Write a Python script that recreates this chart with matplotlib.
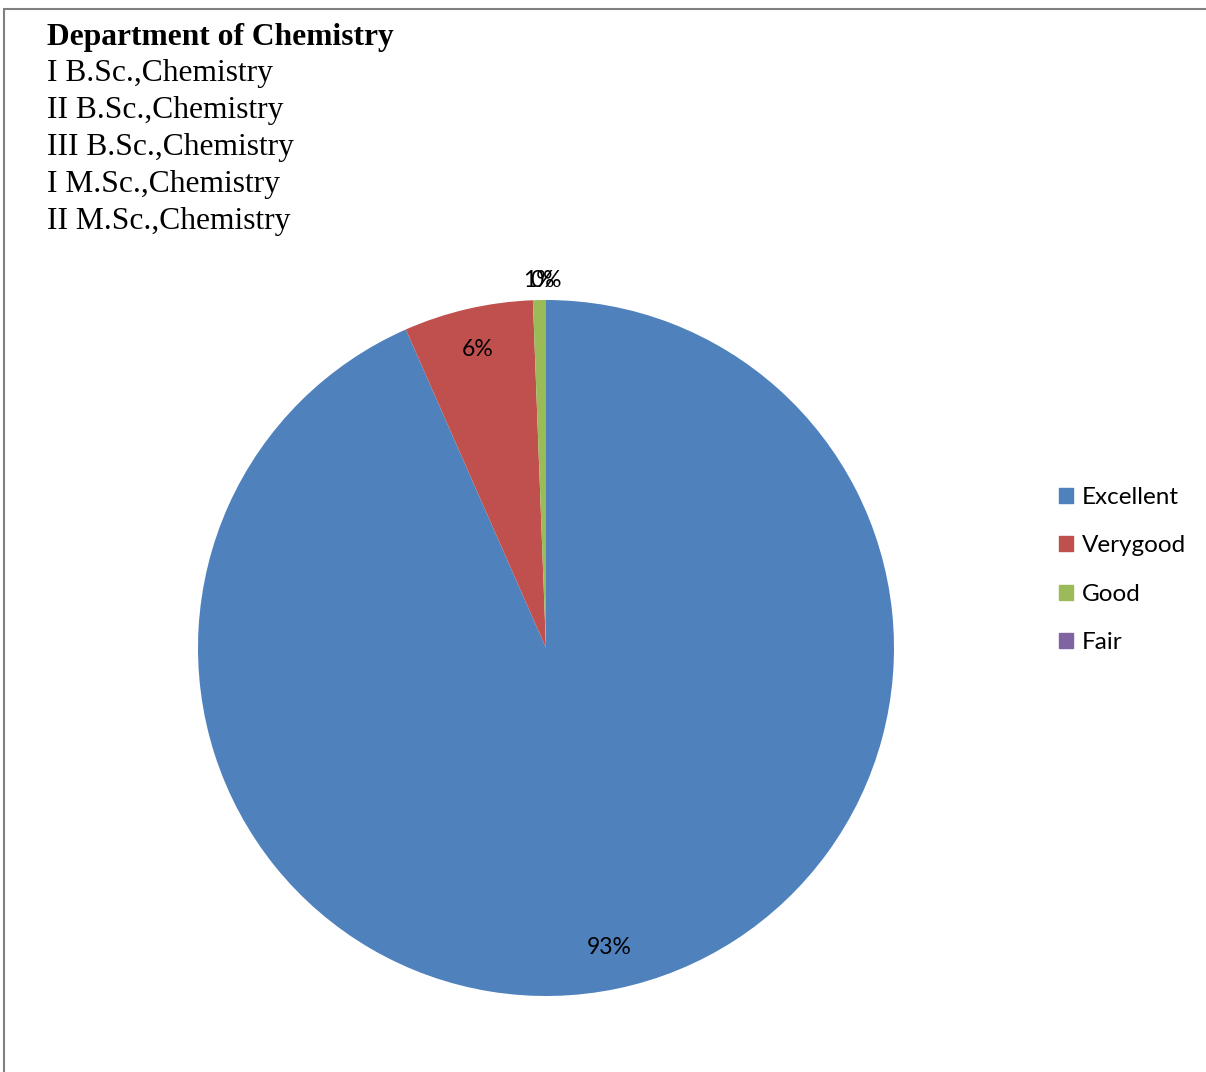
import numpy as np
import matplotlib.pyplot as plt
import matplotlib.patches as mpathes

# ---- data ----
categories = ["Excellent", "Verygood", "Good", "Fair"]
shares = [93.4, 6.0, 0.6, 0.0]
colors = ["#4F81BD", "#C0504D", "#9BBB59", "#8064A2"]
title = "Department of Chemistry"
classes = [
    "I B.Sc.,Chemistry",
    "II B.Sc.,Chemistry",
    "III B.Sc.,Chemistry",
    "I M.Sc.,Chemistry",
    "II M.Sc.,Chemistry",
]

W, H = 1206, 1072
fig = plt.figure(figsize=(W / 100, H / 100), dpi=100)
fig.patch.set_facecolor("white")

# outer frame (only top and left edges visible)
frame = mpathes.Rectangle(
    (4 / W, -0.1), 1.2, 1 - 9 / H + 0.1,
    transform=fig.transFigure, fill=False, edgecolor="#808080", lw=1.5,
)
fig.patches.append(frame)

# header text
fig.text(47 / W, 1 - 37 / H, title, family="Liberation Serif", weight="bold",
         fontsize=22.7, va="center", ha="left")
for i, line in enumerate(classes):
    fig.text(47 / W, 1 - (74 + 36.8 * i) / H, line, family="Liberation Serif",
             fontsize=22.7, va="center", ha="left")

# pie
cx, cy, r = 546, 648, 348
ax = fig.add_axes([(cx - r) / W, (H - cy - r) / H, 2 * r / W, 2 * r / H])
wedges, _, autotexts = ax.pie(
    shares, colors=colors, startangle=90, counterclock=False,
    autopct="%1.0f%%", pctdistance=0.88,
    wedgeprops=dict(linewidth=0),
    textprops=dict(family="Lato", fontsize=16.5, color="black"),
)
for w, t, v in zip(wedges, autotexts, shares):
    if v < 2:
        ang = np.deg2rad((w.theta1 + w.theta2) / 2)
        t.set_position((1.055 * np.cos(ang), 1.055 * np.sin(ang)))
ax.set_xlim(-1, 1)
ax.set_ylim(-1, 1)
ax.axis("off")

handles = [mpathes.Patch(color=c) for c in colors]
fig.legend(
    handles, categories, loc="upper left",
    bbox_to_anchor=(1037 / W, 1 - 465 / H), frameon=False,
    prop=dict(family="Lato", size=17.5),
    handlelength=0.6, handleheight=0.6, handletextpad=0.35, labelspacing=1.13,
)

fig.savefig("out.png", dpi=100)
